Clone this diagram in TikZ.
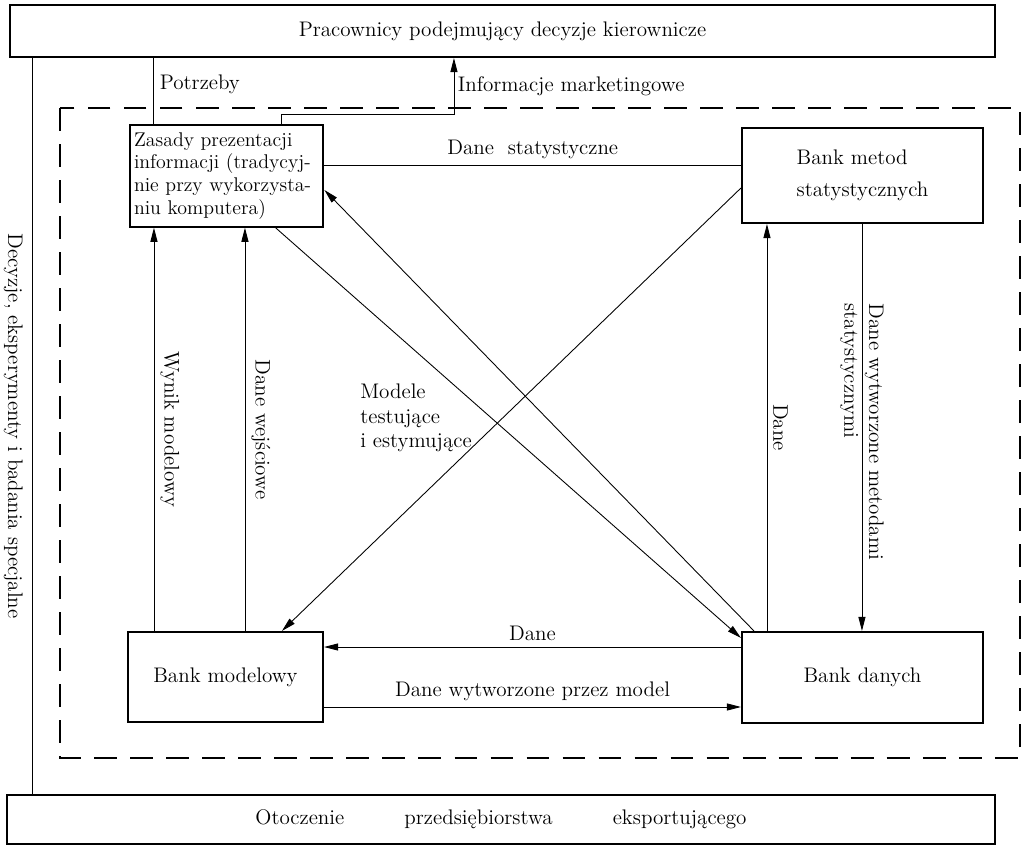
\documentclass[tikz,border=0pt]{standalone}
\usetikzlibrary{arrows.meta}

\begin{document}
\begin{tikzpicture}[x=0.02cm,y=-0.02cm,
  font=\fontsize{12}{14}\selectfont,
  line width=0.5pt,
  blok/.style={draw,line width=1.2pt,inner sep=4pt},
  strz/.style={-{Triangle[length=8pt,width=4pt]}},
  ramka/.style={line width=1.2pt,dash pattern=on 13pt off 7.5pt}]
\useasboundingbox (0,0) rectangle (1030,847);

\node [blok,minimum width=19.7cm,minimum height=1.04cm] (prac) at (502.5,31)
  {Pracownicy podejmujący decyzje kierownicze};
\node [blok,minimum width=19.76cm,minimum height=0.98cm] (otoc) at (501,819.5)
  {Otoczenie \hspace{2.2em} przedsiębiorstwa \hspace{2.2em} eksportującego};

\draw [ramka] (60,108) rectangle (1020,758);

\node [blok,text width=3.7cm,inner xsep=2.5pt,align=left,minimum height=1.92cm,font=\fontsize{11.3}{13}\selectfont] (zasady) at (226.5,176)
  {Zasady prezentacji\\ informacji (tradycyj-\\ nie przy wykorzysta-\\ niu komputera)};
\node [blok,minimum width=4.82cm,minimum height=1.9cm,align=left] (metod) at (862.5,175.5)
  {Bank metod\\[4pt] statystycznych};
\node [blok,minimum width=3.9cm,minimum height=1.8cm] (model) at (225.5,677) {Bank modelowy};
\node [blok,minimum width=4.82cm,minimum height=1.82cm] (danych) at (862.5,677.5) {Bank danych};

% linie do otoczenia i kierownictwa
\draw ([xshift=0.46cm]prac.south west) -- node [anchor=north,rotate=-90,inner sep=5pt] (decyzje)
  {Decyzje, eksperymenty i badania specjalne} ([xshift=0.46cm]prac.south west |- otoc.north);
\draw ([xshift=0.5cm]zasady.north west) -- node [pos=0.6,right] (potrzeby) {Potrzeby}
  ([xshift=0.5cm]zasady.north west |- prac.south);
\draw [strz] ([xshift=3.06cm]zasady.north west) -- ++(0,-10) -| node [pos=0.75,right,inner sep=2pt] (infmark)
  {Informacje marketingowe} ([xshift=8.9cm]prac.south west);

\draw ([yshift=0.22cm]zasady.east) -- node [above] (danestat) {Dane\ \ statystyczne}
  ([yshift=0.22cm]zasady.east -| metod.west);

% pionowe
\draw [strz] ([xshift=0.54cm]model.north west) -- node [anchor=south,rotate=-90] (wynik)
  {Wynik modelowy} ([xshift=0.54cm]model.north west |- zasady.south);
\draw [strz] ([xshift=2.36cm]model.north west) -- node [anchor=south,rotate=-90] (wejscie)
  {Dane wejściowe} ([xshift=2.36cm]model.north west |- zasady.south);
\draw [strz] ([xshift=0.52cm]danych.north west) -- node [anchor=south,rotate=-90] (dane)
  {Dane} ([xshift=0.52cm]danych.north west |- metod.south);
\draw [strz] ([xshift=2.42cm]metod.south west) -- node [pos=0.18,anchor=west,rotate=-90,align=left] (wytwmet)
  {Dane wytworzone metodami\\ statystycznymi} ([xshift=2.42cm]metod.south west |- danych.north);

% skosne
\draw [strz] ([yshift=-0.25cm]metod.west) -- ([xshift=3.1cm]model.north west);
\draw [strz] ([xshift=0.26cm]danych.north west) -- ([yshift=-0.28cm]zasady.east);
\draw [strz] ([xshift=2.94cm]zasady.south west) -- ([yshift=0.79cm]danych.west);
\node [align=left,anchor=west] (modele) at (354,418) {Modele\\ testujące\\ i estymujące};

% poziome na dole
\draw [strz] ([yshift=0.61cm]danych.west) -- node [above] (danedol) {Dane}
  ([yshift=0.61cm]danych.west -| model.east);
\draw [strz] ([yshift=-0.6cm]model.east) -- node [above] (wytwmod) {Dane wytworzone przez model}
  ([yshift=-0.6cm]model.east -| danych.west);

\end{tikzpicture}
\end{document}
